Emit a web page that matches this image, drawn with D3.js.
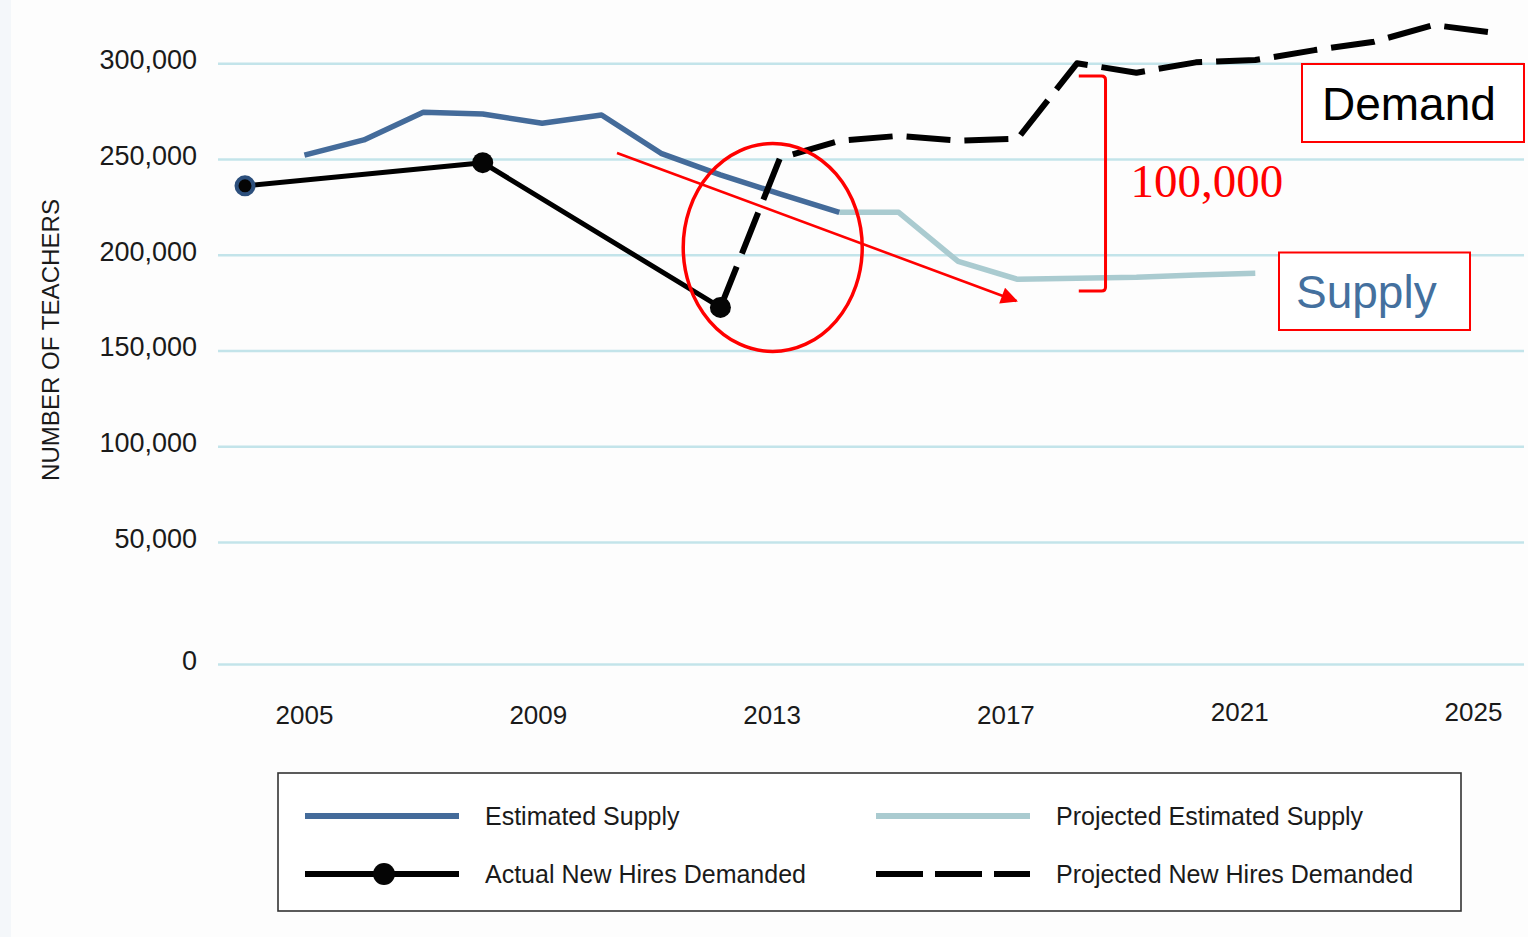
<!DOCTYPE html>
<html>
<head>
<meta charset="utf-8">
<script src="https://cdn.jsdelivr.net/npm/d3@7/dist/d3.min.js"></script>
<style>
  html, body { margin: 0; padding: 0; background: #fdfdfd; }
  svg { display: block; }
</style>
</head>
<body>
<svg id="chart" width="1528" height="937"></svg>
<script>
// ---- Data -------------------------------------------------------------
const supplyYears = [2005, 2006, 2007, 2008, 2009, 2010, 2011, 2012, 2013, 2014];
const supplyValues = [252000, 260000, 274400, 273500, 268700, 273000, 253000, 241700, 231800, 222200];

const projSupplyYears = [2014, 2015, 2016, 2017, 2018, 2019, 2020, 2021];
const projSupplyValues = [222200, 222200, 196500, 187200, 187800, 188300, 189500, 190400];

const actualYears = [2004, 2008, 2012];
const actualValues = [236000, 248100, 172500];

const projDemandYears = [2012, 2013, 2014, 2015, 2016, 2017, 2018, 2019, 2020, 2021, 2022, 2023, 2024, 2025];
const projDemandValues = [172500, 250400, 259500, 262100, 259600, 260600, 300000, 295100, 300500, 301700, 306900, 311300, 320000, 316000];

const yTicks = [0, 50000, 100000, 150000, 200000, 250000, 300000];
const xTickYears = [2005, 2009, 2013, 2017, 2021, 2025];

const legendLabels = ["Estimated Supply", "Projected Estimated Supply", "Actual New Hires Demanded", "Projected New Hires Demanded"];

// Gap between projected demand and projected supply, in teachers
const gapLabel = ["100,000"];

// ---- Styles -----------------------------------------------------------
const C = {
  supply: "#446b9a",
  projSupply: "#aacbd0",
  demand: "#000000",
  grid: "#c3e4ea",
  red: "#ff0000",
  text: "#1a1a1a",
  supplyText: "#44709e"
};
const SANS = "'Liberation Sans', Arial, Helvetica, sans-serif";
const SERIF = "'Liberation Serif', 'Times New Roman', serif";

const svg = d3.select("#chart");

// Background with a faint strip along the left edge
svg.append("rect").attr("width", 1528).attr("height", 937).attr("fill", "#fdfdfd");
svg.append("rect").attr("width", 11).attr("height", 937).attr("fill", "#f4f7fa");

// ---- Scales -----------------------------------------------------------
const plotLeft = 218, plotRight = 1524;
const x = d3.scaleLinear().domain([2004, 2025]).range([245, 1493]);
const xLabel = d3.scaleLinear().domain([2005, 2025]).range([304, 1473]);
const y = d3.scaleLinear().domain([0, 50000, 300000]).range([664, 542, 63.3]);

// ---- Y axis with gridlines --------------------------------------------
const yAxis = d3.axisLeft(y)
  .tickValues(yTicks)
  .tickSize(-(plotRight - plotLeft))
  .tickPadding(21)
  .tickFormat(d3.format(","));

const gy = svg.append("g").attr("transform", `translate(${plotLeft},0)`).call(yAxis);
gy.select(".domain").remove();
gy.selectAll(".tick line").attr("stroke", C.grid).attr("stroke-width", 2.6);
gy.selectAll(".tick text")
  .attr("fill", C.text)
  .attr("font-family", SANS)
  .attr("font-size", 27)
  .attr("dy", "0.2em");

// Axis title
svg.append("text")
  .attr("transform", "translate(59,340) rotate(-90)")
  .attr("text-anchor", "middle")
  .attr("font-family", SANS)
  .attr("font-size", 24)
  .attr("fill", C.text)
  .attr("textLength", 282)
  .attr("lengthAdjust", "spacingAndGlyphs")
  .text("NUMBER OF TEACHERS");

// ---- X axis labels ----------------------------------------------------
const xAxis = d3.axisBottom(xLabel)
  .tickValues(xTickYears)
  .tickSize(0)
  .tickPadding(0)
  .tickFormat(d3.format("d"));
const gx = svg.append("g").attr("transform", "translate(0,724)").call(xAxis);
gx.select(".domain").remove();
gx.selectAll(".tick text")
  .attr("fill", C.text)
  .attr("font-family", SANS)
  .attr("font-size", 26)
  .attr("y", 0)
  .attr("dy", d => d >= 2021 ? -3 : 0);

// ---- Series -----------------------------------------------------------
const line = d3.line().x(d => x(d[0])).y(d => y(d[1]));
const zip = (a, b) => a.map((v, i) => [v, b[i]]);

svg.append("path")
  .datum(zip(projSupplyYears, projSupplyValues))
  .attr("d", line)
  .attr("fill", "none")
  .attr("stroke", C.projSupply)
  .attr("stroke-width", 5.5)
  .attr("stroke-linejoin", "round");

svg.append("path")
  .datum(zip(supplyYears, supplyValues))
  .attr("d", line)
  .attr("fill", "none")
  .attr("stroke", C.supply)
  .attr("stroke-width", 5.5)
  .attr("stroke-linejoin", "round");

// Red trend arrow (drawn beneath the demand lines)
const arrowFrom = [2010.26, 253200];
const arrowTo = [2016.98, 175900];
svg.append("defs").append("marker")
  .attr("id", "arrowhead")
  .attr("viewBox", "0 0 10 10")
  .attr("refX", 9).attr("refY", 5)
  .attr("markerWidth", 7.5).attr("markerHeight", 6.5)
  .attr("markerUnits", "strokeWidth")
  .attr("orient", "auto")
  .append("path").attr("d", "M0,0 L10,5 L0,10 Z").attr("fill", C.red);
svg.append("line")
  .attr("x1", x(arrowFrom[0])).attr("y1", y(arrowFrom[1]))
  .attr("x2", x(arrowTo[0])).attr("y2", y(arrowTo[1]))
  .attr("stroke", C.red)
  .attr("stroke-width", 2.6)
  .attr("marker-end", "url(#arrowhead)");

svg.append("path")
  .datum(zip(projDemandYears, projDemandValues))
  .attr("d", line)
  .attr("fill", "none")
  .attr("stroke", C.demand)
  .attr("stroke-width", 6)
  .attr("stroke-dasharray", "44,14")
  .attr("stroke-linejoin", "round");

const actual = zip(actualYears, actualValues);
svg.append("path")
  .datum(actual)
  .attr("d", line)
  .attr("fill", "none")
  .attr("stroke", C.demand)
  .attr("stroke-width", 5)
  .attr("stroke-linejoin", "round");

svg.selectAll("circle.actual")
  .data(actual)
  .join("circle")
  .attr("class", "actual")
  .attr("cx", d => x(d[0]))
  .attr("cy", d => y(d[1]))
  .attr("r", (d, i) => i === 0 ? 8.5 : 10.5)
  .attr("fill", "#050505")
  .attr("stroke", (d, i) => i === 0 ? "#2c4f7c" : "none")
  .attr("stroke-width", 4);

// ---- Annotations ------------------------------------------------------
// Circle around the drop in hires
const ringCenter = [2012.88, 203800];
svg.append("ellipse")
  .attr("cx", x(ringCenter[0]))
  .attr("cy", y(ringCenter[1]))
  .attr("rx", 89.5).attr("ry", 104)
  .attr("fill", "none")
  .attr("stroke", C.red)
  .attr("stroke-width", 3.5);

// Bracket marking the demand/supply gap
const bracketX = [2018.03, 2018.48];
const bracketY = [293400, 181100];
{
  const x0 = x(bracketX[0]), x1 = x(bracketX[1]);
  const yt = y(bracketY[0]), yb = y(bracketY[1]);
  svg.append("path")
    .attr("d", `M${x0},${yt} H${x1 - 4} Q${x1},${yt} ${x1},${yt + 4} V${yb - 4} Q${x1},${yb} ${x1 - 4},${yb} H${x0}`)
    .attr("fill", "none")
    .attr("stroke", C.red)
    .attr("stroke-width", 3);
}
svg.append("text")
  .attr("x", x(2018.9))
  .attr("y", y(230300))
  .attr("font-family", SERIF)
  .attr("font-size", 47)
  .attr("fill", C.red)
  .text(gapLabel[0]);

// Callout boxes
function callout(bx, by, bw, bh, inset, label, color) {
  svg.append("rect")
    .attr("x", bx).attr("y", by).attr("width", bw).attr("height", bh)
    .attr("fill", "#ffffff")
    .attr("stroke", C.red)
    .attr("stroke-width", 2);
  svg.append("text")
    .attr("x", bx + inset).attr("y", by + bh / 2)
    .attr("dy", "0.36em")
    .attr("font-family", SANS)
    .attr("font-size", 46)
    .attr("fill", color)
    .text(label);
}
callout(1302, 64, 222, 78, 20, "Demand", "#000000");
callout(1279, 252.5, 191, 77.5, 17, "Supply", C.supplyText);

// ---- Legend -----------------------------------------------------------
const lg = svg.append("g");
lg.append("rect")
  .attr("x", 278).attr("y", 773).attr("width", 1183).attr("height", 138)
  .attr("fill", "#ffffff")
  .attr("stroke", "#333333")
  .attr("stroke-width", 1.6);

const legendItems = [
  { col: 0, row: 0, color: C.supply, dash: null, dot: false },
  { col: 1, row: 0, color: C.projSupply, dash: null, dot: false },
  { col: 0, row: 1, color: C.demand, dash: null, dot: true },
  { col: 1, row: 1, color: C.demand, dash: "47,12", dot: false }
].map((d, i) => ({ ...d, label: legendLabels[i] }));

const colX = [305, 876], rowY = [816, 874], swatchW = 154;
legendItems.forEach(d => {
  const lx = colX[d.col], ly = rowY[d.row];
  lg.append("line")
    .attr("x1", lx).attr("x2", lx + swatchW)
    .attr("y1", ly).attr("y2", ly)
    .attr("stroke", d.color)
    .attr("stroke-width", 6)
    .attr("stroke-dasharray", d.dash);
  if (d.dot) {
    lg.append("circle").attr("cx", lx + swatchW / 2 + 2).attr("cy", ly).attr("r", 11).attr("fill", "#050505");
  }
  lg.append("text")
    .attr("x", lx + swatchW + 26).attr("y", ly)
    .attr("dy", "0.36em")
    .attr("font-family", SANS)
    .attr("font-size", 25)
    .attr("fill", C.text)
    .text(d.label);
});
</script>
</body>
</html>
